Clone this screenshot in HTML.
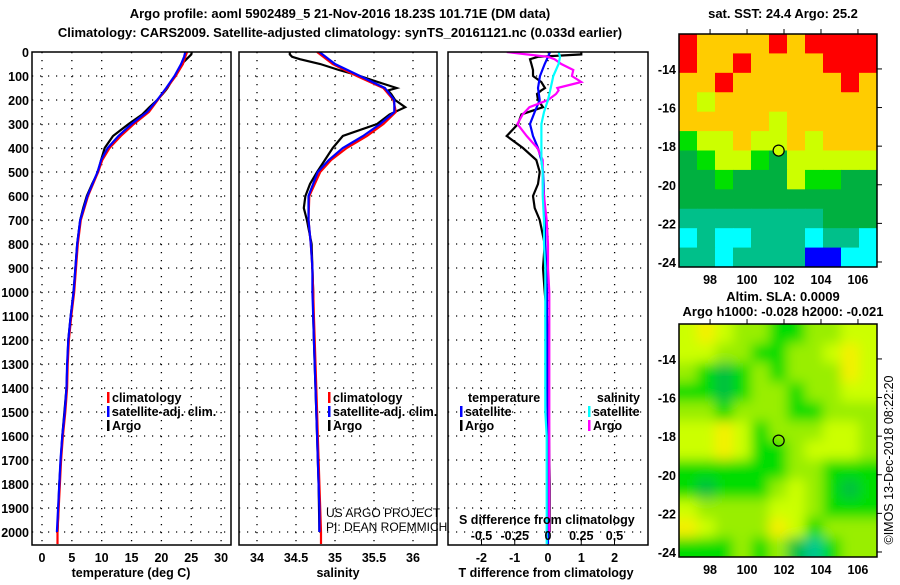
<!DOCTYPE html>
<html><head><meta charset="utf-8"><style>
body{margin:0;background:#fff;width:900px;height:580px;overflow:hidden}
svg{font-family:"Liberation Sans",sans-serif}
.b{font-weight:bold;font-size:13px}
.t{font-weight:bold;font-size:12.5px}
</style></head><body>
<svg id="c" width="900" height="580">
<text class="b" x="340" y="18" text-anchor="middle">Argo profile: aoml 5902489_5 21-Nov-2016 18.23S 101.71E (DM data)</text>
<text class="b" x="340" y="37" text-anchor="middle">Climatology: CARS2009. Satellite-adjusted climatology: synTS_20161121.nc (0.033d earlier)</text>
<text class="b" x="783" y="18" text-anchor="middle">sat. SST: 24.4 Argo: 25.2</text>
<text class="b" x="783" y="301" text-anchor="middle">Altim. SLA: 0.0009</text>
<text class="b" x="783" y="316" text-anchor="middle">Argo h1000: -0.028 h2000: -0.021</text>
<text x="893" y="460" font-size="12.5" text-anchor="middle" transform="rotate(-90 893 460)">©IMOS 13-Dec-2018 08:22:20</text>
</svg>
<script>
const D=[0,20,50,100,150,200,250,300,350,400,450,500,600,700,800,900,1000,1100,1200,1300,1400,1500,1600,1700,1800,1900,2000,2050];
const tClim=[24.3,24.0,23.6,22.4,20.9,19.4,17.9,15.4,13.2,11.3,10.1,9.4,7.7,6.5,6.0,5.7,5.4,4.9,4.5,4.3,4.2,3.9,3.5,3.2,3.0,2.8,2.6,2.6];
const tSat=[24.0,23.8,23.3,22.2,20.8,19.3,17.6,15.0,12.8,11.0,9.9,9.3,7.6,6.4,5.9,5.6,5.3,4.8,4.4,4.2,4.1,3.8,3.4,3.1,2.9,2.7,2.5,null];
const sClim=[34.77,34.85,34.97,35.28,35.62,35.75,35.78,35.62,35.41,35.15,34.95,34.81,34.67,34.66,34.69,34.71,34.72,34.73,34.74,34.75,34.76,34.77,34.78,34.79,34.80,34.81,34.82,34.82];
const sSat=[34.80,34.88,35.0,35.32,35.64,35.76,35.76,35.58,35.36,35.10,34.92,34.78,34.66,34.66,34.69,34.71,34.71,34.72,34.73,34.74,34.75,34.76,34.77,34.78,34.79,34.80,34.80,null];
const tDiffSat=[0.06,0.0,-0.1,-0.24,-0.3,-0.25,-0.4,-0.54,-0.45,-0.3,-0.2,-0.15,-0.12,-0.1,-0.08,-0.05,-0.03,-0.03,-0.02,-0.02,-0.02,-0.01,-0.01,0,0,0,0,0];
const sDiffSat=[0.08,0.09,0.08,0.04,0.02,0.0,-0.03,-0.05,-0.05,-0.05,-0.05,-0.04,-0.04,-0.03,-0.03,-0.02,-0.02,-0.02,-0.02,-0.02,-0.02,-0.02,-0.01,-0.01,-0.01,-0.01,-0.01,-0.01];
const dArgo=[0,10,20,30,50,75,100,125,150,160,175,200,230,260,300,350,400,450,500,550,600,650,700,800,900,1000,1100,1200,1400,1600,1800,2000];
const tArgo=[25.1,25.0,24.6,24.2,23.4,22.9,22.3,21.6,21.0,20.7,20.2,19.3,18.0,16.8,14.5,11.9,10.5,9.9,9.4,8.4,7.5,6.9,6.4,5.9,5.6,5.3,4.8,4.4,4.1,3.4,2.9,2.6];
const sArgo=[34.42,34.42,34.45,34.55,34.81,35.05,35.32,35.55,35.79,35.68,35.72,35.77,35.9,35.7,35.54,35.10,34.97,34.87,34.77,34.68,34.62,34.60,34.64,34.70,34.71,34.72,34.72,34.73,34.75,34.77,34.79,34.80];
const tDiffArgo=[1.0,1.0,-0.3,-0.54,-0.5,-0.45,-0.45,-0.2,-0.09,-0.2,-0.33,-0.3,-0.15,-0.8,-0.9,-1.24,-0.75,-0.35,-0.25,-0.3,-0.45,-0.4,-0.25,-0.1,-0.15,-0.1,-0.03,0,0.02,0.03,0.05,0.05];
const sDiffArgo=[-0.31,-0.16,0.0,0.05,0.1,0.19,0.18,0.25,0.07,0.08,0.06,0.0,-0.14,-0.19,-0.23,-0.16,-0.08,-0.04,-0.04,-0.04,-0.03,-0.02,-0.01,0,0,0.01,0.01,0.01,0.01,0.01,0.01,0.01];
const depthTicks=[0,100,200,300,400,500,600,700,800,900,1000,1100,1200,1300,1400,1500,1600,1700,1800,1900,2000];
const tTicks=[0,5,10,15,20,25,30];
const sTicks=[34,34.5,35,35.5,36];
const tdTicks=[-2,-1,0,1,2];
const sdTicks=[-0.5,-0.25,0,0.25,0.5];
const sdTickLabels=["-0.5","-0.25","0","0.25","0.5"];
const latTicks=[-14,-16,-18,-20,-22,-24];
const lonTicks=[98,100,102,104,106];
const sstGrid=[
[7,6,6,6,6,7,6,7,7,7,7],[7,6,6,7,6,6,6,6,7,7,7],[6,6,7,6,6,6,6,6,6,7,6],[6,5,6,6,6,6,6,6,6,6,6],
[6,6,6,6,6,5,6,6,6,6,6],[4,5,5,6,5,5,6,5,6,6,6],[3,4,5,5,4,3,5,5,5,5,5],[3,3,4,3,3,3,5,4,4,3,3],
[3,3,3,3,3,3,3,3,3,3,3],[2,2,2,2,2,2,2,2,3,3,3],[1,2,1,1,2,2,2,1,2,2,1],[2,2,1,2,2,2,2,0,0,1,1]];
const slaGrid=[
[4,5,4,3,3,2,2,3,3,4,4],[4,4,3,3,2,2,3,3,4,5,4],[3,2,1,2,3,2,3,3,3,5,4],[2,2,1,2,3,3,2,3,3,4,4],
[3,3,2,3,3,3,2,2,3,3,3],[4,4,5,4,2,3,3,3,4,4,3],[4,4,5,4,2,2,3,4,4,4,3],[2,2,2,2,2,2,3,3,2,2,2],
[2,1,2,2,2,3,4,3,2,1,2],[4,3,3,3,3,4,4,3,2,2,2],[5,4,3,3,3,5,4,2,3,3,3],[2,2,2,3,2,3,1,0,2,3,3]];
const sstColors=["#0000ff","#00ffff","#00c08a","#00b040","#00e000","#ccff00","#ffcc00","#ff0000"];
const slaColors=["#00c890","#00c040","#00dd00","#99ee00","#ccff00","#f4f000"];
const floatLon=101.71, floatLat=-18.23;

const NS="http://www.w3.org/2000/svg", svg=document.getElementById('c');
function el(t,a,p){const e=document.createElementNS(NS,t);for(const k in a)e.setAttribute(k,a[k]);(p||svg).appendChild(e);return e;}
const yD=d=>52+d*0.24;
const panels=[{x0:32,x1:231},{x0:239,x1:437},{x0:448,x1:648}];
const xT=v=>42+v*5.97, xS=v=>296+(v-34.5)*78, xTD=v=>548+v*33.3, xSD=v=>548+v*133;

panels.forEach((p,i)=>{
  const g=el('g',{});
  
  
  const ticks=i==0?tTicks.map(xT):i==1?sTicks.map(xS):tdTicks.map(xTD);
  depthTicks.forEach(d=>{if(d>0)el('line',{x1:p.x0,x2:p.x1,y1:yD(d),y2:yD(d),stroke:'#000','stroke-dasharray':'1.2,6.8','stroke-width':1.3},g);});
  ticks.forEach(x=>el('line',{x1:x,x2:x,y1:52,y2:545,stroke:'#000','stroke-dasharray':'1.2,6.8','stroke-width':1.3},g));
  if(i==2) sdTicks.forEach(v=>el('line',{x1:xSD(v),x2:xSD(v),y1:539,y2:545,stroke:'#000'},g));
});
function series(ds,vals,fx,col,name,cl){
  const pts=[];ds.forEach((d,k)=>{if(vals[k]!=null)pts.push(fx(vals[k]).toFixed(1)+','+yD(d).toFixed(1));});
  const e=el('polyline',{points:pts.join(' '),fill:'none',stroke:col,'stroke-width':2.2,'clip-path':'url(#'+cl+')'});
  
  
}
const defs=el('defs',{});
panels.forEach((p,i)=>{const c=el('clipPath',{id:'cp'+i},defs);el('rect',{x:p.x0,y:52,width:p.x1-p.x0,height:493},c);});
series(dArgo,tArgo,xT,'#000','temperature-argo-line','cp0');
series(D,tClim,xT,'#ff0000','temperature-climatology-line','cp0');
series(D,tSat,xT,'#0000ff','temperature-satellite-line','cp0');
series(dArgo,sArgo,xS,'#000','salinity-argo-line','cp1');
series(D,sClim,xS,'#ff0000','salinity-climatology-line','cp1');
series(D,sSat,xS,'#0000ff','salinity-satellite-line','cp1');
series(dArgo,tDiffArgo,xTD,'#000','t-diff-argo-line','cp2');
series(D,tDiffSat,xTD,'#0000ff','t-diff-satellite-line','cp2');
series(dArgo,sDiffArgo,xSD,'#ff00ff','s-diff-argo-line','cp2');
series(D,sDiffSat,xSD,'#00ffff','s-diff-satellite-line','cp2');
panels.forEach(p=>el('rect',{x:p.x0,y:52,width:p.x1-p.x0,height:493,fill:'none',stroke:'#000','stroke-width':1.5}));

function txt(x,y,s,o){const e=el('text',Object.assign({x:x,y:y,'font-weight':'bold','font-size':12.5},o||{}));e.textContent=s;return e;}
depthTicks.forEach(d=>{const e=txt(29,yD(d)+5,String(d),{'text-anchor':'end'});});
tTicks.forEach(v=>{const e=txt(xT(v),562,String(v),{'text-anchor':'middle'});});
sTicks.forEach(v=>{const e=txt(xS(v),562,String(v),{'text-anchor':'middle'});});
tdTicks.forEach(v=>{const e=txt(xTD(v),562,String(v),{'text-anchor':'middle'});});
sdTicks.forEach((v,k)=>{const e=txt(xSD(v),540,sdTickLabels[k],{'text-anchor':'middle'});});
let e;
e=txt(131,577,'temperature (deg C)',{'text-anchor':'middle'});
e=txt(338,577,'salinity',{'text-anchor':'middle'});
e=txt(546,577,'T difference from climatology',{'text-anchor':'middle'});
e=txt(459,524,'S difference from climatology');
e=txt(326,517,'US ARGO PROJECT',{'font-weight':'normal','font-size':12});
e=txt(326,531,'PI: DEAN ROEMMICH',{'font-weight':'normal','font-size':12});

function leg(x,y,col,s,name){el('rect',{x:x,y:y-10,width:2.5,height:11,fill:col});const t=txt(x+5,y,s);}
[[107,'p1'],[328,'p2']].forEach(([x,n])=>{
  leg(x,402,'#ff0000','climatology',n+'-legend-climatology');
  leg(x,416,'#0000ff','satellite-adj. clim.',n+'-legend-satellite');
  leg(x,430,'#000','Argo',n+'-legend-argo');
});
e=txt(468,402,'temperature');
leg(460,416,'#0000ff','satellite','legend-t-satellite');
leg(460,430,'#000','Argo','legend-t-argo');
e=txt(640,402,'salinity',{'text-anchor':'end'});
leg(588,416,'#00ffff','satellite','legend-s-satellite');
leg(588,430,'#ff00ff','Argo','legend-s-argo');

function map(y0,y1,grid,cols,name,mk,blur){
  const x0=679,x1=877,lon0=96.32,lon1=107.03,lat0=-12.19,lat1=-24.26;
  const fx=v=>x0+(v-lon0)/(lon1-lon0)*(x1-x0), fy=v=>y0+(v-lat0)/(lat1-lat0)*(y1-y0);
  const id='mc'+name;const c=el('clipPath',{id:id},defs);el('rect',{x:x0,y:y0,width:x1-x0,height:y1-y0},c);
  if(blur){const f=el('filter',{id:'bl'+name},defs);el('feGaussianBlur',{stdDeviation:6},f);}
  const g=el('g',{'clip-path':'url(#'+id+')'});
  
  
  const gi=el('g',blur?{filter:'url(#bl'+name+')'}:{},g);
  const R=grid.length,C=grid[0].length,cw=(x1-x0)/C,ch=(y1-y0)/R;
  grid.forEach((row,r)=>row.forEach((v,k)=>{
    const cell=el('rect',{x:x0+k*cw-(blur&&k==0?20:0),y:y0+r*ch-(blur&&r==0?20:0),width:cw+0.6+(blur&&(k==0||k==C-1)?20:0),height:ch+0.6+(blur&&(r==0||r==R-1)?20:0),fill:cols[v]},gi);
    
    
  }));
  el('rect',{x:x0,y:y0,width:x1-x0,height:y1-y0,fill:'none',stroke:'#000','stroke-width':1.5});
  lonTicks.forEach(v=>{el('line',{x1:fx(v),x2:fx(v),y1:y0-5,y2:y0,stroke:'#000'});
    const t=txt(fx(v),y1+17,String(v),{'text-anchor':'middle'});});
  latTicks.forEach(v=>{el('line',{x1:x1,x2:x1+5,y1:fy(v),y2:fy(v),stroke:'#000'});
    const t=txt(676,fy(v)+5,String(v),{'text-anchor':'end'});});
  const m=el('circle',{cx:fx(floatLon),cy:fy(floatLat),r:5.5,fill:mk,stroke:'#000','stroke-width':1.2});
  
  
}
map(34,267,sstGrid,sstColors,'sst-map','#ccff00',false);
map(324,557,slaGrid,slaColors,'sla-map','none',true);
</script>
</body></html>
